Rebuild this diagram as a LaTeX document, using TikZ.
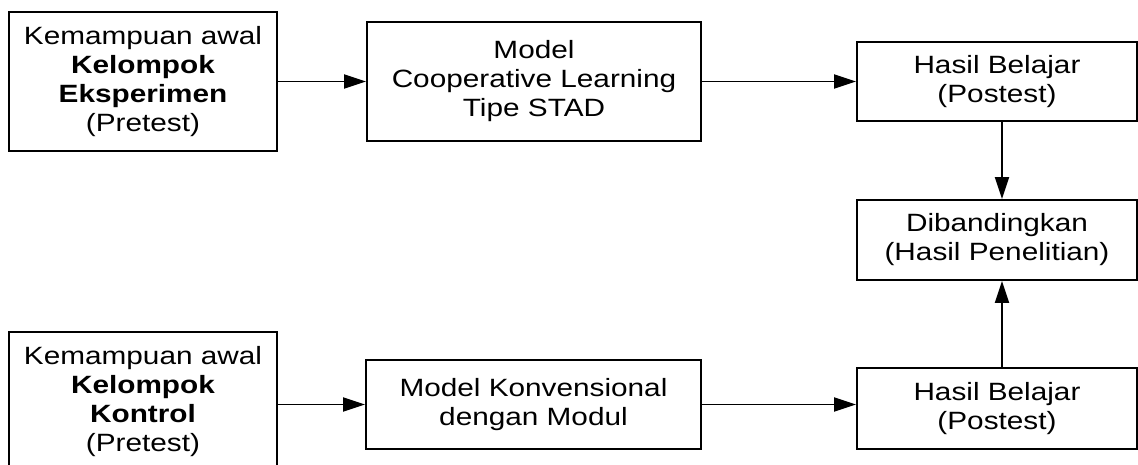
\documentclass[tikz,border=0pt]{standalone}
\usepackage{fontspec}
\setmainfont[FakeStretch=1.19]{Liberation Sans}
\usepackage{tikz}
\usetikzlibrary{arrows.meta}

\tikzset{
    box/.style = {draw, rectangle, line width = 1.9pt, inner sep = 0pt, align = center,
                  font = \fontsize{25pt}{29pt}\selectfont},
    link/.style = {-{Triangle[length = 22pt, width = 14pt]}, line width = 1.9pt}
}

\begin{document}
\begin{tikzpicture}
        \useasboundingbox (0pt, 0pt) rectangle (1138pt, -465pt);

        % Nodes
        \node [box, minimum width = 268pt, minimum height = 139pt] (a1) at (143pt, -81.5pt) {Kemampuan awal\\\textbf{Kelompok}\\\textbf{Eksperimen}\\(Pretest)};
        \node [box, minimum width = 334pt, minimum height = 119pt] (b1) at (534pt, -81.5pt) {Model\\Cooperative Learning\\Tipe STAD};
        \node [box, minimum width = 280pt, minimum height = 79pt] (c1) at (997pt, -81.5pt) {Hasil Belajar\\(Postest)};
        \node [box, minimum width = 280pt, minimum height = 80pt] (d) at (997pt, -240pt) {Dibandingkan\\(Hasil Penelitian)};
        \node [box, minimum width = 268pt, minimum height = 139pt] (a2) at (143pt, -401.5pt) {Kemampuan awal\\\textbf{Kelompok}\\\textbf{Kontrol}\\(Pretest)};
        \node [box, minimum width = 335pt, minimum height = 89pt] (b2) at (533.5pt, -404.5pt) {Model Konvensional\\dengan Modul};
        \node [box, minimum width = 280pt, minimum height = 81pt] (c2) at (997pt, -408.5pt) {Hasil Belajar\\(Postest)};

        % Draw the links
        \draw [link] (a1.east) -- (b1.west);
        \draw [link] (b1.east) -- (c1.west);
        \draw [link] ([xshift = 5pt]c1.south) -- ([xshift = 5pt]d.north);
        \draw [link] (b2.west -| a2.east) -- (b2.west);
        \draw [link] (b2.east) -- (b2.east -| c2.west);
        \draw [link] ([xshift = 5pt]c2.north) -- ([xshift = 5pt]d.south);

    \end{tikzpicture}
\end{document}
